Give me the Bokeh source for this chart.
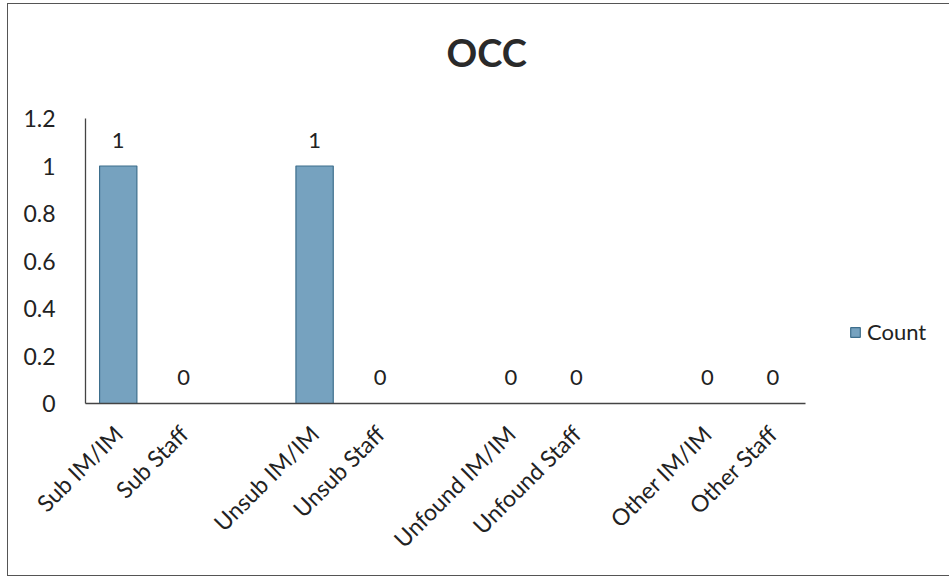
from bokeh.plotting import figure
from bokeh.models import FactorRange, Range1d, FixedTicker, NumeralTickFormatter, Legend, LegendItem, ColumnDataSource, Title
from bokeh.core.properties import value
from bokeh.embed import file_html
from bokeh.resources import INLINE
import math

# ---- data ----
categories = ["Sub IM/IM", "Sub Staff", "Unsub IM/IM", "Unsub Staff",
              "Unfound IM/IM", "Unfound Staff", "Other IM/IM", "Other Staff"]
counts = [1, 0, 1, 0, 0, 0, 0, 0]
y_ticks = [0, 0.2, 0.4, 0.6, 0.8, 1.0, 1.2]
chart_title = "OCC"

# factor list with an empty slot between each pair
factors = []
for i in range(0, len(categories), 2):
    factors += categories[i:i + 2]
    if i + 2 < len(categories):
        factors.append(" " * (i // 2 + 1))

FONT = "Lato"
TXT = "#222222"

p = figure(x_range=FactorRange(*factors), y_range=Range1d(0, 1.2),
           frame_width=720, frame_height=285,
           min_border_left=77, min_border_right=140, min_border_top=114, min_border_bottom=172,
           output_backend="svg", toolbar_location=None, title=None)

# spacer (closest to the frame) then the real title above it
p.add_layout(Title(text=" ", text_font_size="20px", standoff=20), "above")
p.add_layout(Title(text=chart_title, text_font=FONT, text_font_size="38px",
                   text_font_style="bold", text_color="#2a2a2a",
                   align="left", offset=361, standoff=0), "above")

src = ColumnDataSource(dict(x=categories, top=counts, lab=[str(c) for c in counts]))
bars = p.vbar(x="x", top="top", width=0.57, source=src,
              fill_color="#76a2bf", line_color="#3d6e8c", line_width=1.2)
p.text(x="x", y="top", text="lab", source=src, y_offset=-26,
       text_align="center", text_baseline="middle",
       text_font_size="22px", text_color=TXT, text_font=value(FONT))

p.xgrid.visible = False
p.ygrid.visible = False
p.outline_line_color = None

p.yaxis.ticker = FixedTicker(ticks=y_ticks)
p.yaxis.formatter = NumeralTickFormatter(format="0.[0]")
for ax in (p.xaxis, p.yaxis):
    ax.axis_line_color = "#444444"
    ax.axis_line_width = 1.3
    ax.major_tick_line_color = None
    ax.minor_tick_line_color = None
    ax.major_label_text_font = FONT
    ax.major_label_text_color = TXT
p.yaxis.major_label_text_font_size = "23px"
p.xaxis.major_label_text_font_size = "23px"
p.yaxis.major_label_standoff = 24
p.xaxis.major_label_orientation = math.pi / 4
p.xaxis.major_label_standoff = 20

legend = Legend(items=[LegendItem(label="Count", renderers=[bars])],
                location=(44, 58), padding=0, margin=0, glyph_width=12, glyph_height=12,
                label_standoff=6, label_text_font=FONT, label_text_font_size="22px",
                label_text_color=TXT, border_line_color=None, background_fill_alpha=0)
p.add_layout(legend, "right")

p.styles = {"border": "1px solid #555555", "margin-left": "7px", "margin-top": "3px"}

open("out.html", "w").write(file_html(p, INLINE))
